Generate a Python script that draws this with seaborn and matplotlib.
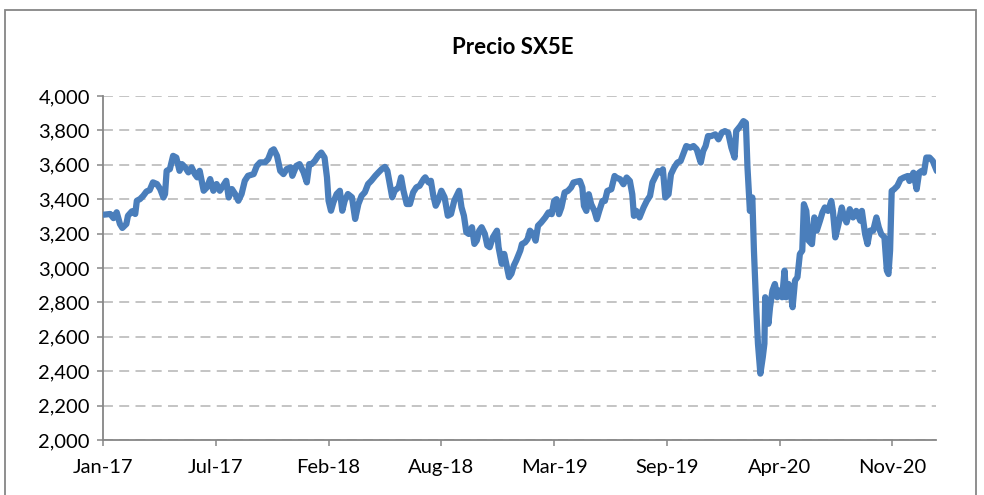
import matplotlib
matplotlib.use("Agg")
import matplotlib.pyplot as plt
import seaborn as sns
import pandas as pd
from matplotlib.patches import Rectangle
from matplotlib.ticker import FuncFormatter

title = "Precio SX5E"
tick_labels = ["Jan-17", "Jul-17", "Feb-18", "Aug-18", "Mar-19", "Sep-19", "Apr-20", "Nov-20"]
tick_days = [0, 140, 280, 420, 560, 700, 840, 980]
y_ticks = [2000, 2200, 2400, 2600, 2800, 3000, 3200, 3400, 3600, 3800, 4000]

# trading-day index of each sampled point
day_2017 = [1, 9, 13, 17, 21, 24, 29, 31, 36, 40, 42, 46, 50, 54, 58, 62, 67, 71, 75, 77,
            79, 83, 87, 91, 95, 98, 102, 106, 110, 114, 117, 120, 125, 129, 133, 137, 141, 145, 149, 153,
            156, 160, 164, 168, 172, 176, 180, 187, 191, 195, 201, 205, 209, 212, 216, 220, 224, 228, 233, 235,
            240, 244, 249, 253, 256]
price_2017 = [3310, 3314, 3290, 3324, 3256, 3233, 3256, 3304, 3330, 3314, 3391, 3401, 3420, 3445, 3453, 3498, 3488, 3459, 3410, 3430,
              3565, 3575, 3652, 3642, 3565, 3604, 3585, 3556, 3585, 3546, 3527, 3565, 3449, 3469, 3517, 3449, 3488, 3449, 3478, 3507,
              3410, 3459, 3430, 3391, 3430, 3507, 3536, 3546, 3594, 3614, 3614, 3633, 3681, 3690, 3652, 3565, 3546, 3575, 3585, 3536,
              3594, 3604, 3556, 3498, 3604]

day_2018 = [259, 263, 267, 271, 275, 278, 280, 283, 286, 290, 294, 297, 300, 304, 309, 313, 317, 321, 325, 329,
            333, 338, 342, 346, 350, 353, 356, 359, 362, 367, 370, 373, 377, 381, 385, 389, 393, 398, 400, 404,
            407, 410, 413, 416, 420, 424, 428, 432, 436, 439, 442, 445, 448, 451, 454, 458, 461, 464, 467, 470,
            474, 477, 480, 484, 489, 491, 495, 498, 501, 504, 507, 510, 513, 518]
price_2018 = [3604, 3623, 3652, 3671, 3642, 3527, 3391, 3333, 3382, 3430, 3449, 3333, 3391, 3430, 3411, 3285, 3372, 3420, 3440, 3488,
              3507, 3536, 3556, 3575, 3588, 3565, 3488, 3411, 3449, 3469, 3527, 3449, 3372, 3372, 3440, 3469, 3478, 3517, 3527, 3498,
              3507, 3420, 3362, 3391, 3449, 3411, 3304, 3314, 3391, 3420, 3449, 3353, 3304, 3208, 3198, 3237, 3140, 3160, 3217, 3237,
              3198, 3131, 3121, 3179, 3217, 3121, 3024, 3082, 3015, 2947, 2967, 3015, 3044, 3102]

day_2019 = [520, 524, 527, 530, 534, 537, 540, 544, 549, 553, 557, 560, 563, 566, 569, 573, 577, 581, 584, 588,
            592, 595, 597, 600, 603, 606, 610, 613, 616, 620, 623, 626, 631, 635, 637, 642, 646, 650, 654, 657,
            659, 662, 666, 671, 675, 679, 682, 685, 689, 693, 695, 698, 702, 705, 709, 713, 717, 721, 724, 729,
            733, 737, 740, 742, 745, 748, 751, 755, 760, 764, 768, 772]
price_2019 = [3139, 3149, 3168, 3217, 3197, 3159, 3246, 3265, 3294, 3323, 3313, 3390, 3400, 3313, 3352, 3439, 3448, 3468, 3497, 3502,
              3506, 3468, 3361, 3332, 3429, 3371, 3332, 3284, 3332, 3390, 3390, 3448, 3458, 3535, 3526, 3516, 3487, 3526, 3506, 3429,
              3303, 3332, 3294, 3352, 3390, 3419, 3497, 3526, 3564, 3554, 3574, 3410, 3429, 3545, 3584, 3613, 3622, 3671, 3709, 3700,
              3709, 3690, 3642, 3613, 3680, 3709, 3767, 3767, 3777, 3748, 3786, 3796]

day_2020 = [776, 780, 784, 786, 791, 795, 798, 800, 803, 806, 808, 811, 813, 816, 819, 821, 822, 826, 828, 831,
            834, 837, 840, 843, 846, 848, 851, 854, 856, 859, 862, 865, 868, 870, 873, 876, 880, 883, 886, 890,
            893, 896, 900, 904, 906, 909, 913, 917, 920, 923, 927, 931, 935, 940, 942, 946, 949, 952, 956, 960,
            963, 966, 970, 973, 975, 977, 979, 982, 986, 990, 994, 999, 1001, 1006, 1010, 1013, 1016, 1019, 1022, 1026,
            1030, 1035]
price_2020 = [3786, 3700, 3642, 3796, 3825, 3854, 3844, 3584, 3332, 3410, 3101, 2753, 2560, 2386, 2482, 2560, 2830, 2676, 2772, 2869,
              2907, 2830, 2869, 2830, 2985, 2830, 2907, 2849, 2772, 2927, 2946, 3081, 3101, 3371, 3332, 3159, 3139, 3294, 3217, 3275,
              3323, 3352, 3332, 3390, 3332, 3178, 3255, 3352, 3294, 3265, 3342, 3294, 3332, 3275, 3332, 3197, 3139, 3217, 3217, 3294,
              3236, 3197, 3178, 2985, 2965, 3101, 3448, 3458, 3477, 3516, 3526, 3535, 3506, 3554, 3458, 3554, 3564, 3554, 3642, 3642,
              3622, 3564]

df = pd.DataFrame({
    "day": day_2017 + day_2018 + day_2019 + day_2020,
    "price": price_2017 + price_2018 + price_2019 + price_2020,
})

sns.set_theme(style="white")
plt.rcParams["font.family"] = ["Lato", "DejaVu Sans"]

fig = plt.figure(figsize=(9.84, 4.95), dpi=100)
ax = fig.add_axes([103 / 984, 1 - 440 / 495, (936 - 103) / 984, (440 - 96) / 495])

sns.lineplot(data=df, x="day", y="price", ax=ax, color="#4A7EBB", linewidth=4.5,
             solid_joinstyle="round", solid_capstyle="round", zorder=3)

ax.set_xlim(0, 1034)
ax.set_ylim(2000, 4000)
ax.set_xticks(tick_days)
ax.set_xticklabels(tick_labels)
ax.set_yticks(y_ticks)
ax.yaxis.set_major_formatter(FuncFormatter(lambda v, p: f"{int(v):,}"))
ax.set_xlabel("")
ax.set_ylabel("")

ax.yaxis.grid(True, color="#BFBFBF", linewidth=1.3, linestyle=(0, (5.5, 3.5)))
ax.xaxis.grid(False)
for s in ["top", "right"]:
    ax.spines[s].set_visible(False)
for s in ["left", "bottom"]:
    ax.spines[s].set_color("#868686")
    ax.spines[s].set_linewidth(1.3)

ax.tick_params(axis="both", which="major", direction="out", length=4.5, width=1.1,
               color="#868686", labelsize=14.5, labelcolor="black")
ax.tick_params(axis="x", pad=9)
ax.tick_params(axis="y", pad=5, left=True)
ax.tick_params(axis="x", bottom=True)

fig.text(513 / 984, 1 - 47 / 495, title, ha="center", va="center",
         fontsize=16, fontweight="bold", color="black")

fig.patches.append(Rectangle((5 / 984, -0.05), (976 - 5) / 984, 1 - 10 / 495 + 0.05,
                             transform=fig.transFigure, fill=False, edgecolor="#868686",
                             linewidth=1.3, clip_on=False))

fig.savefig("out.png", dpi=100)
